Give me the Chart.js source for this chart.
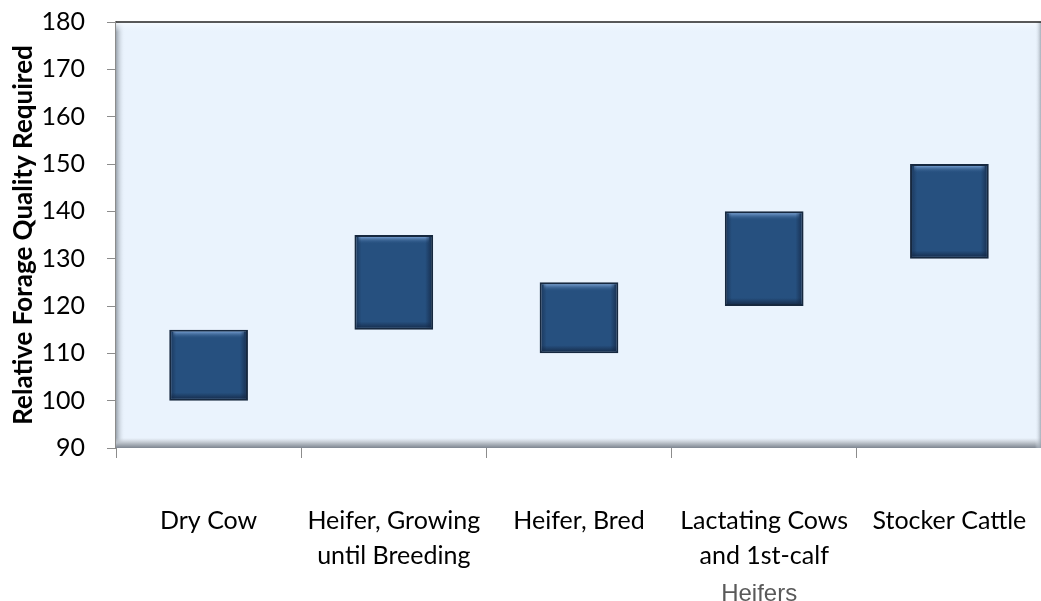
<!DOCTYPE html>
<html>
<head>
<meta charset="utf-8">
<script src="https://cdn.jsdelivr.net/npm/chart.js@4/dist/chart.umd.min.js"></script>
<style>
    html, body { margin: 0; padding: 0; background: #fff; overflow: hidden; }
    #wrap { position: relative; width: 1043px; height: 601px; }
</style>
</head>
<body>
<div id="wrap"><canvas id="chart"></canvas></div>
<script>
// categories (each entry split into lines), low/high of each range
const categories = [
    ['Dry Cow'],
    ['Heifer, Growing', 'until Breeding'],
    ['Heifer, Bred'],
    ['Lactating Cows', 'and 1st-calf', 'Heifers'],
    ['Stocker Cattle']
];
const lowValues = [100, 115, 110, 120, 130];
const highValues = [115, 135, 125, 140, 150];
const yTicks = [90, 100, 110, 120, 130, 140, 150, 160, 170, 180];
const yTitle = 'Relative Forage Quality Required';

const ranges = lowValues.map((lo, i) => [lo, highValues[i]]);

// light blue plot area with the bevelled frame
const plotFrame = {
    id: 'plotFrame',
    beforeDatasetsDraw(chart) {
        const { ctx, chartArea: a } = chart;
        ctx.save();
        ctx.fillStyle = '#EAF3FD';
        ctx.fillRect(a.left, a.top, a.right - a.left, a.bottom - a.top);

        // left bevel
        let g = ctx.createLinearGradient(a.left, 0, a.left + 9, 0);
        g.addColorStop(0, '#9aa3ad');
        g.addColorStop(1, 'rgba(234,243,253,0)');
        ctx.fillStyle = g;
        ctx.fillRect(a.left, a.top, 9, a.bottom - a.top);

        // top highlight
        g = ctx.createLinearGradient(0, a.top, 0, a.top + 10);
        g.addColorStop(0, '#f7fbff');
        g.addColorStop(1, 'rgba(234,243,253,0)');
        ctx.fillStyle = g;
        ctx.fillRect(a.left, a.top, a.right - a.left, 10);

        // bottom bevel
        g = ctx.createLinearGradient(0, a.bottom - 10, 0, a.bottom);
        g.addColorStop(0, 'rgba(200,205,212,0)');
        g.addColorStop(0.5, '#b9c0c8');
        g.addColorStop(1, '#7d8590');
        ctx.fillStyle = g;
        ctx.fillRect(a.left, a.bottom - 10, a.right - a.left, 10);

        // right bevel
        g = ctx.createLinearGradient(a.right - 7, 0, a.right, 0);
        g.addColorStop(0, 'rgba(234,243,253,0)');
        g.addColorStop(1, '#8d96a0');
        ctx.fillStyle = g;
        ctx.fillRect(a.right - 7, a.top, 7, a.bottom - a.top);

        // top line
        ctx.strokeStyle = '#222';
        ctx.lineWidth = 1.5;
        ctx.beginPath();
        ctx.moveTo(a.left, a.top);
        ctx.lineTo(a.right, a.top);
        ctx.stroke();
        ctx.restore();
    }
};

// bevel highlight on each bar and the grey last line of a label
const barBevel = {
    id: 'barBevel',
    afterDatasetsDraw(chart) {
        const { ctx } = chart;
        const meta = chart.getDatasetMeta(0);
        ctx.save();
        meta.data.forEach(bar => {
            const left = bar.x - bar.width / 2;
            const top = Math.min(bar.y, bar.base);
            const bottom = Math.max(bar.y, bar.base);
            // top light strip
            let g = ctx.createLinearGradient(0, top + 2, 0, top + 9);
            g.addColorStop(0, 'rgba(120,160,210,0.9)');
            g.addColorStop(1, 'rgba(38,80,128,0)');
            ctx.fillStyle = g;
            ctx.fillRect(left + 4, top + 2, bar.width - 8, 7);
            // bottom dark strip
            g = ctx.createLinearGradient(0, bottom - 8, 0, bottom - 2);
            g.addColorStop(0, 'rgba(20,40,70,0)');
            g.addColorStop(1, 'rgba(20,40,70,0.8)');
            ctx.fillStyle = g;
            ctx.fillRect(left + 2, bottom - 8, bar.width - 4, 6);
            // side shading
            g = ctx.createLinearGradient(left + bar.width - 8, 0, left + bar.width - 2, 0);
            g.addColorStop(0, 'rgba(20,40,70,0)');
            g.addColorStop(1, 'rgba(20,40,70,0.7)');
            ctx.fillStyle = g;
            ctx.fillRect(left + bar.width - 8, top + 2, 6, bottom - top - 4);
            g = ctx.createLinearGradient(left + 2, 0, left + 7, 0);
            g.addColorStop(0, 'rgba(20,40,70,0.5)');
            g.addColorStop(1, 'rgba(20,40,70,0)');
            ctx.fillStyle = g;
            ctx.fillRect(left + 2, top + 2, 5, bottom - top - 4);
        });

        // third label lines are drawn in a different face, as in the source
        const xs = chart.scales.x;
        ctx.fillStyle = '#595959';
        ctx.font = '24px "Liberation Sans", Arial, sans-serif';
        ctx.textAlign = 'center';
        ctx.textBaseline = 'middle';
        categories.forEach((lines, i) => {
            if (lines.length > 2) {
                ctx.fillText(lines[2], xs.getPixelForValue(i) - 5, 594);
            }
        });
        ctx.restore();
    }
};

new Chart(document.getElementById('chart'), {
    type: 'bar',
    data: {
        labels: categories.map(c => c.slice(0, 2)),
        datasets: [{
            data: ranges,
            backgroundColor: '#26507F',
            borderColor: '#16283F',
            borderWidth: 2,
            borderSkipped: false,
            barPercentage: 0.425,
            categoryPercentage: 1
        }]
    },
    options: {
        responsive: true,
        maintainAspectRatio: false,
        animation: false,
        layout: { padding: { top: 22, right: 1, left: 0, bottom: 0 } },
        plugins: {
            legend: { display: false },
            tooltip: { enabled: false }
        },
        scales: {
            x: {
                afterFit: s => {
                    s.height = 153;
                    s.paddingLeft = 0;
                    s.paddingRight = 0;
                },
                grid: {
                    display: true,
                    drawOnChartArea: false,
                    drawTicks: true,
                    tickLength: 10,
                    color: '#8c8c8c',
                    offset: true
                },
                border: { display: false },
                ticks: {
                    padding: 45,
                    color: '#000',
                    font: { family: 'Lato, "Open Sans", sans-serif', size: 25, lineHeight: 1.4 },
                    maxRotation: 0,
                    autoSkip: false
                }
            },
            y: {
                min: 90,
                max: 180,
                afterFit: s => {
                    s.width = 116;
                    s.paddingTop = 0;
                    s.paddingBottom = 0;
                },
                afterBuildTicks: s => { s.ticks = yTicks.map(v => ({ value: v })); },
                grid: {
                    display: true,
                    drawOnChartArea: false,
                    drawTicks: true,
                    tickLength: 9,
                    color: '#8c8c8c'
                },
                border: { display: true, color: '#8c8c8c', width: 1.5 },
                ticks: {
                    padding: 22,
                    color: '#000',
                    font: { family: 'Lato, "Open Sans", sans-serif', size: 25 }
                },
                title: {
                    display: true,
                    text: yTitle,
                    color: '#000',
                    padding: { top: 8, bottom: 0 },
                    font: { family: 'Lato, "Open Sans", sans-serif', size: 26, weight: 'bold' }
                }
            }
        }
    },
    plugins: [plotFrame, barBevel]
});
</script>
</body>
</html>
